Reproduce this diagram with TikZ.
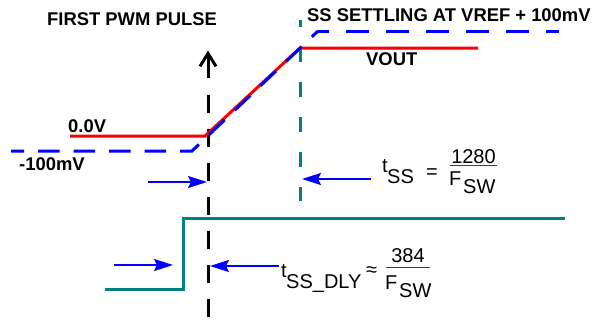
\documentclass[tikz,border=0pt]{standalone}
\usepackage{fontspec}
\setmainfont{Liberation Sans}
\usetikzlibrary{arrows.meta}
\definecolor{vred}{RGB}{255,0,0}
\definecolor{vblue}{RGB}{0,0,255}
\definecolor{vteal}{RGB}{0,128,128}
\begin{document}
\begin{tikzpicture}[x=1pt,y=-1pt,
  lbl/.style={inner sep=0pt, anchor=base west, font=\fontsize{18.4}{22}\selectfont\bfseries},
  frm/.style={inner sep=0pt, anchor=base west, font=\fontsize{20}{24}\selectfont},
  frmc/.style={inner sep=0pt, anchor=base, font=\fontsize{20}{24}\selectfont},
  fbar/.style={line width=0.8pt, black!75},
  wave/.style={line width=3pt},
  barrow/.style={vblue, line width=2pt, -{Stealth[length=19pt,width=12pt,inset=3pt]}},
  pwm/.style={line width=3pt, black}
]
\useasboundingbox (0,0) rectangle (608,322);

% coordinates
\coordinate (ptop) at (208,50.5);
\coordinate (pshaft) at (208,78);
\coordinate (pdash) at (208,95);
\coordinate (pbot) at (208,318);
\coordinate (sstop) at (300,20);
\coordinate (ssbot) at (300,201);

% first PWM pulse marker
\draw[pwm, {Straight Barb[length=13pt,width=16pt]}-] (ptop) -- (pshaft);
\draw[pwm, dash pattern=on 18pt off 16pt] (pdash) -- (pbot);

% SS settling marker
\draw[vteal, line width=3pt, dash pattern=on 15pt off 20pt, dash phase=8pt] (sstop) -- (ssbot);

% VOUT
\coordinate (r0) at (70,136);
\coordinate (r1) at (205,136);
\coordinate (r2) at (300,48);
\coordinate (r3) at (478,48);
\draw[wave, vred] (r0) -- (r1) -- (r2) -- (r3);

% reference (dashed)
\coordinate (b0) at (11,151);
\coordinate (b1) at (192,151);
\coordinate (b2) at (318,31);
\coordinate (b3) at (559,31);
\draw[wave, vblue, dash pattern=on 21.5pt off 14pt, dash phase=8.5pt] (b0) -- (b1) -- (b2);
\draw[wave, vblue, dash pattern=on 23pt off 17pt, dash phase=12pt] (b2) -- (b3);

% enable signal
\coordinate (e0) at (105,289);
\coordinate (e1) at (183,289);
\coordinate (e2) at (183,218);
\coordinate (e3) at (565,218);
\draw[wave, vteal] (e0) -- (e1) -- (e2) -- (e3);

% labels
\node[lbl] (first) at (47,25.5) {FIRST PWM PULSE};
\node[lbl] (ssset) at (307,21.7) {SS SETTLING AT VREF + 100mV};
\node[lbl] (vout) at (366,65) {VOUT};
\node[lbl] (zero) at (68,132) {0.0V};
\node[lbl] (m100) at (19,170) {-100mV};

% t_SS formula
\node[frm] (t1) at (382,172) {t};
\node[frm] (ss1) at (387,183) {SS};
\node[frm] (eq1) at (426,178.5) {=};
\node[frmc] (n1) at (473.5,163) {1280};
\node[frm] (f1) at (449,185) {F};
\node[frm] (sw1) at (463,193) {SW};
\coordinate (bar1a) at (450,165);
\coordinate (bar1b) at (497,165);
\draw[fbar] (bar1a) -- (bar1b);

% t_SS_DLY formula
\node[frm] (t2) at (281,277) {t};
\node[frm] (ss2) at (286,288) {SS\_DLY};
\node[frm] (ap2) at (366,276.5) {≈};
\node[frmc] (n2) at (408,262) {384};
\node[frm] (f2) at (385,289) {F};
\node[frm] (sw2) at (399,297) {SW};
\coordinate (bar2a) at (386,267);
\coordinate (bar2b) at (430,267);
\draw[fbar] (bar2a) -- (bar2b);

% timing arrows
\coordinate (a1s) at (148,182);
\coordinate (a1e) at (207,182);
\coordinate (a2s) at (371,179);
\coordinate (a2e) at (302,179);
\coordinate (a3s) at (114,265);
\coordinate (a3e) at (173,265);
\coordinate (a4s) at (279,266);
\coordinate (a4e) at (210,266);
\draw[barrow] (a1s) -- (a1e);
\draw[barrow] (a2s) -- (a2e);
\draw[barrow] (a3s) -- (a3e);
\draw[barrow] (a4s) -- (a4e);
\end{tikzpicture}
\end{document}
